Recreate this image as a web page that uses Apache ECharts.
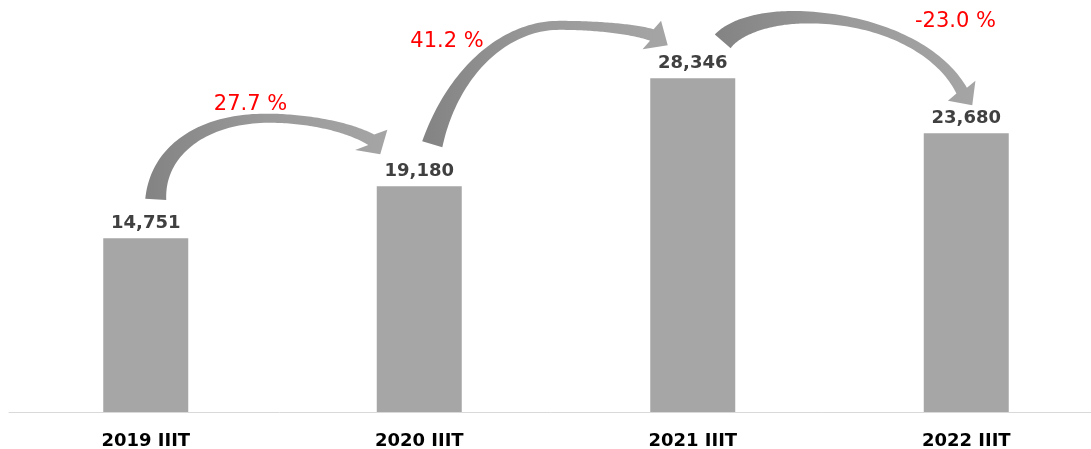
<!DOCTYPE html>
<html>
<head>
<meta charset="utf-8">
<script src="https://cdn.jsdelivr.net/npm/echarts@6/dist/echarts.min.js"></script>
<style>
html,body{margin:0;padding:0;background:#fff;}
#chart{width:1091px;height:449px;}
</style>
</head>
<body>
<div id="chart"></div>
<script>
// ---- data ----
const categories = ['2019 IIIT', '2020 IIIT', '2021 IIIT', '2022 IIIT'];
const values = [14751, 19180, 28346, 23680];
const changeLabels = ['27.7 %', '41.2 %', '-23.0 %'];
const arrowPairs = [[0, 1], [1, 2], [2, 3]];

// ---- layout of the decorative arrows (px offsets relative to the bar tops) ----
const arrowLayout = [
  { tail: [10, -39], tailAng: 88, tip: [-39, -32], headAng: 58, headLen: 17, headHalf: 19, bandAng: 30, peakFrac: 0.50, peakLift: -36, label: [-32, -14] },
  { tail: [13, -42], tailAng: 74, tip: [-25, -33], headAng: 33, headLen: 19, headHalf: 17, bandAng: 18, peakFrac: 0.54, peakLift: -20, label: [-109, 16] },
  { tail: [30, -37], tailAng: 50, tip: [6, -28],   headAng: 54, headLen: 18, headHalf: 17, bandAng: 62, peakFrac: 0.31, peakLift: -24, label: [126, 4] }
];

function bez(p0, p1, p2, p3, t) {
  const u = 1 - t;
  return [
    u*u*u*p0[0] + 3*u*u*t*p1[0] + 3*u*t*t*p2[0] + t*t*t*p3[0],
    u*u*u*p0[1] + 3*u*u*t*p1[1] + 3*u*t*t*p2[1] + t*t*t*p3[1]
  ];
}
function lerp(a, b, f) { return [a[0] + (b[0]-a[0])*f, a[1] + (b[1]-a[1])*f]; }

function renderArrow(params, api) {
  const k = params.dataIndex;
  const pair = arrowPairs[k];
  const L = arrowLayout[k];
  const A = api.coord([pair[0], values[pair[0]]]);
  const B = api.coord([pair[1], values[pair[1]]]);
  const T = [A[0] + L.tail[0], A[1] + L.tail[1]];
  const H = [B[0] + L.tip[0], B[1] + L.tip[1]];
  const rad = Math.PI / 180;
  const uh = [Math.cos(L.headAng*rad), Math.sin(L.headAng*rad)];
  const Hb = [H[0] - uh[0]*L.headLen, H[1] - uh[1]*L.headLen];
  const ub = [Math.cos(L.bandAng*rad), Math.sin(L.bandAng*rad)];
  const vt = [Math.cos(L.tailAng*rad), -Math.sin(L.tailAng*rad)];
  const Pk = [T[0] + (H[0]-T[0])*L.peakFrac, Math.min(T[1], H[1]) + L.peakLift];

  // tangent-line intersections
  const X = [T[0] + vt[0] * (T[1]-Pk[1]) / (-vt[1]), Pk[1]];
  const Y = [Hb[0] - ub[0] * (Hb[1]-Pk[1]) / ub[1], Pk[1]];
  const f = 0.6;
  const seg1 = [T, lerp(T, X, f), lerp(Pk, X, f), Pk];
  const seg2 = [Pk, lerp(Pk, Y, f), lerp(Hb, Y, f), Hb];

  const samples = [];
  const M = 50;
  [seg1, seg2].forEach(function (sg, si) {
    for (let s = (si === 0 ? 0 : 1); s <= M; s++) samples.push(bez(sg[0], sg[1], sg[2], sg[3], s / M));
  });
  const cum = [0];
  for (let i = 1; i < samples.length; i++) {
    cum.push(cum[i-1] + Math.hypot(samples[i][0]-samples[i-1][0], samples[i][1]-samples[i-1][1]));
  }
  const total = cum[cum.length - 1];
  const left = [], right = [];
  for (let i = 0; i < samples.length; i++) {
    const a = samples[Math.max(0, i-1)], b = samples[Math.min(samples.length-1, i+1)];
    const d = [b[0]-a[0], b[1]-a[1]];
    const len = Math.hypot(d[0], d[1]) || 1;
    const n = [-d[1]/len, d[0]/len];
    const s = cum[i] / total;
    const w = 21 - 36*s + 27*s*s;
    left.push([samples[i][0] + n[0]*w/2, samples[i][1] + n[1]*w/2]);
    right.push([samples[i][0] - n[0]*w/2, samples[i][1] - n[1]*w/2]);
  }
  const nh = [-uh[1], uh[0]];
  const barb1 = [Hb[0] + nh[0]*L.headHalf, Hb[1] + nh[1]*L.headHalf];
  const barb2 = [Hb[0] - nh[0]*L.headHalf, Hb[1] - nh[1]*L.headHalf];
  const pts = left.concat([barb1, H, barb2]).concat(right.reverse());

  const midX = (A[0] + B[0]) / 2;
  return {
    type: 'group',
    children: [
      {
        type: 'polygon',
        shape: { points: pts },
        style: {
          fill: {
            type: 'linear', x: 0, y: 0, x2: 1, y2: 0,
            colorStops: [
              { offset: 0, color: '#838383' },
              { offset: 0.5, color: '#9a9a9a' },
              { offset: 1, color: '#a5a5a5' }
            ]
          }
        }
      },
      {
        type: 'text',
        style: {
          text: changeLabels[k],
          x: midX + L.label[0],
          y: Pk[1] + L.label[1],
          fill: '#ff0000',
          fontSize: 21,
          fontFamily: '"DejaVu Sans"',
          align: 'center',
          verticalAlign: 'middle'
        }
      }
    ]
  };
}

const chart = echarts.init(document.getElementById('chart'), null, { renderer: 'canvas' });
chart.setOption({
  animation: false,
  backgroundColor: '#ffffff',
  grid: { left: 9, top: 0, width: 1094, height: 412, containLabel: false, outerBoundsMode: 'none' },
  xAxis: {
    type: 'category',
    data: categories,
    axisLine: { show: true, lineStyle: { color: '#d9d9d9', width: 1 } },
    axisTick: { show: false },
    axisLabel: {
      margin: 20,
      color: '#000000',
      fontFamily: '"DejaVu Sans"',
      fontWeight: 'bold',
      fontSize: 18
    }
  },
  yAxis: {
    type: 'value',
    min: 0,
    max: 35000,
    show: false,
    splitLine: { show: false }
  },
  series: [
    {
      type: 'bar',
      data: values,
      barWidth: 85,
      itemStyle: { color: '#a6a6a6' },
      label: {
        show: true,
        position: 'top',
        distance: 6,
        color: '#404040',
        fontFamily: '"DejaVu Sans"',
        fontWeight: 'bold',
        fontSize: 18,
        formatter: function (p) { return p.value.toLocaleString('en-US'); }
      }
    },
    {
      type: 'custom',
      silent: true,
      z: 5,
      clip: false,
      renderItem: renderArrow,
      data: arrowPairs.map(function (p) { return [p[0], p[1]]; })
    }
  ]
});
</script>
</body>
</html>
